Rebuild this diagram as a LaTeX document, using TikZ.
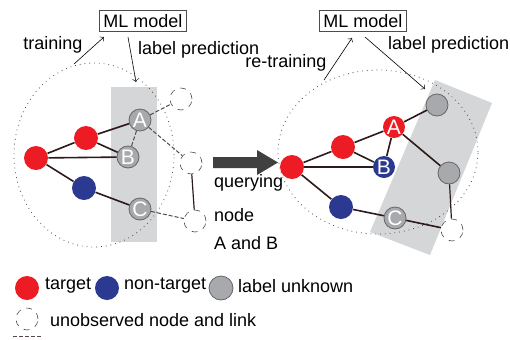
\documentclass[tikz,border=0pt]{standalone}
\usepackage{fontspec}
\setmainfont{Liberation Sans}
\definecolor{tred}{HTML}{ED1C24}
\definecolor{tblue}{HTML}{2B3990}
\definecolor{ugray}{HTML}{A7A9AC}
\definecolor{pgray}{HTML}{D5D6D8}
\definecolor{linkc}{HTML}{2E1A1A}

\begin{document}
\begin{tikzpicture}[x=0.5pt,y=-0.5pt,
    every node/.style={font=\fontsize{9}{10}\selectfont},
    tnode/.style={circle,fill=tred,minimum size=12pt,inner sep=0pt},
    nnode/.style={circle,fill=tblue,minimum size=12pt,inner sep=0pt},
    unode/.style={circle,fill=ugray,draw=black!60,line width=0.4pt,minimum size=11pt,inner sep=0pt,text=white,font=\fontsize{10.5}{11}\selectfont},
    onode/.style={circle,draw=black!70,dashed,line width=0.3pt,fill=white,minimum size=11pt,inner sep=0pt},
    link/.style={draw=linkc,line width=0.8pt},
    olink/.style={draw=linkc!80,dashed,line width=0.5pt,dash pattern=on 2pt off 1pt},
    model/.style={draw=black!70,line width=0.4pt,inner sep=2pt},
    cloud/.style={draw=black!70,dotted,line width=0.4pt}]
    \useasboundingbox (0,0) rectangle (510,339);
    % left panel
    \fill[pgray] (111,87) rectangle (157,242);
    \draw[cloud] (94,155) ellipse [x radius=40pt, y radius=46pt];
    \node[model] (m1) at (143,21) {ML model};
    \node (tr1) at (53,45) {training};
    \node[anchor=west] (lp1) at (131,50) {label prediction};
    \coordinate (s1) at (74,64);
    \coordinate (e1) at (136,82);
    \draw[->,line width=0.3pt] (s1) -- (104,37);
    \draw[->,line width=0.3pt] (128,37) -- (e1);
    \node[tnode] (r1) at (36,158) {};
    \node[tnode] (r2) at (86,138) {};
    \node[nnode] (b1) at (84,188) {};
    \node[unode] (a1) at (140,120) {A};
    \node[unode] (bb1) at (128,157) {B};
    \node[unode] (c1) at (140,209) {C};
    \node[onode] (o1) at (181,99) {};
    \node[onode] (o2) at (191,163) {};
    \node[onode] (o3) at (195,221) {};
    \draw[link] (r1) -- (r2);
    \draw[link] (r1) -- (bb1);
    \draw[link] (r1) -- (b1);
    \draw[link] (r2) -- (a1);
    \draw[link] (r2) -- (bb1);
    \draw[link] (b1) -- (c1);
    \draw[olink] (a1) -- (bb1);
    \draw[olink] (a1) -- (o1);
    \draw[olink] (a1) -- (o2);
    \draw[olink] (c1) -- (o3);
    \draw[link,line width=0.6pt] (o2) -- (o3);
    % querying arrow
    \fill[black!75] (213,157) -- (257,157) -- (257,150) -- (278,162.5)
        -- (257,175) -- (257,168) -- (213,168) -- cycle;
    \node[anchor=west] (q1) at (207,183) {querying};
    \node[anchor=west] (q2) at (207,215) {node};
    \node[anchor=west] (q3) at (207,243) {A and B};
    % right panel
    \fill[pgray] (435,80) -- (492,103) -- (430,255) -- (370,232) -- cycle;
    \draw[cloud] (378,152) ellipse [x radius=50pt, y radius=41pt];
    \node[model] (m2) at (363,21) {ML model};
    \node (tr2) at (286,63) {re-training};
    \node[anchor=west] (lp2) at (381,45) {label prediction};
    \coordinate (s2) at (324,80);
    \coordinate (e2) at (425,89);
    \draw[->,line width=0.3pt] (s2) -- (352,38);
    \draw[->,line width=0.3pt] (365,37) -- (e2);
    \node[tnode] (r3) at (292,167) {};
    \node[tnode] (r4) at (343,147) {};
    \node[tnode,minimum size=11pt,text=white,font=\fontsize{10.5}{11}\selectfont] (a2) at (394,127) {A};
    \node[nnode,minimum size=11pt,text=white,font=\fontsize{10.5}{11}\selectfont] (bb2) at (384,167) {B};
    \node[nnode] (b2) at (341,207) {};
    \node[unode] (c2) at (395,218) {C};
    \node[unode] (u1) at (437,105) {};
    \node[unode] (u2) at (449,173) {};
    \node[onode] (o4) at (452,230) {};
    \draw[link] (r3) -- (r4);
    \draw[link] (r3) -- (bb2);
    \draw[link] (r3) -- (b2);
    \draw[link] (r4) -- (a2);
    \draw[link] (r4) -- (bb2);
    \draw[link] (a2) -- (bb2);
    \draw[link] (a2) -- (u1);
    \draw[link] (a2) -- (u2);
    \draw[link] (b2) -- (c2);
    \draw[link] (c2) -- (o4);
    \draw[link,line width=0.6pt] (u2) -- (o4);
    % legend
    \node[tnode] (lt) at (27,288) {};
    \node[anchor=west] (ltt) at (38,286) {target};
    \node[nnode] (ln) at (107,288) {};
    \node[anchor=west] (lnt) at (117,286) {non-target};
    \node[unode,minimum size=12pt] (lu) at (221,288) {};
    \node[anchor=west] (lut) at (231,286) {label unknown};
    \node[onode] (lo) at (27,319) {};
    \node[anchor=west] (lot) at (43,320) {unobserved node and link};
    \coordinate (ls) at (13,336);
    \coordinate (le) at (41,336);
    \draw[olink] (ls) -- (le);
\end{tikzpicture}
\end{document}
